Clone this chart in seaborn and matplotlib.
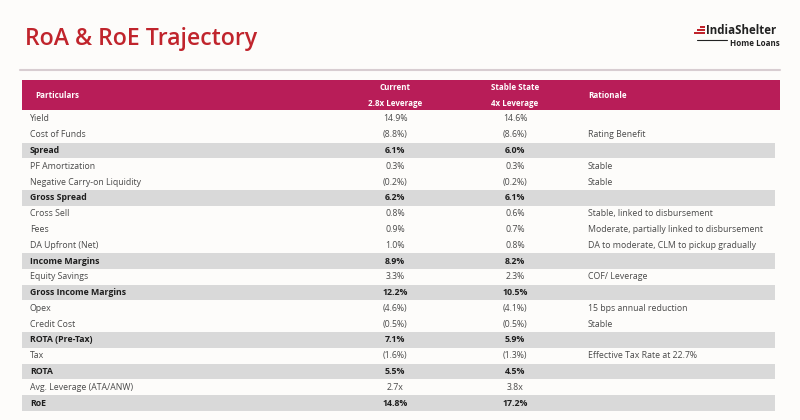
import numpy as np
import matplotlib
matplotlib.use("Agg")
import matplotlib.pyplot as plt
import seaborn as sns

particulars = ["Yield", "Cost of Funds", "Spread", "PF Amortization",
               "Negative Carry-on Liquidity", "Gross Spread", "Cross Sell", "Fees",
               "DA Upfront (Net)", "Income Margins", "Equity Savings",
               "Gross Income Margins", "Opex", "Credit Cost", "ROTA (Pre-Tax)",
               "Tax", "ROTA", "Avg. Leverage (ATA/ANW)", "RoE"]
current = ["14.9%", "(8.8%)", "6.1%", "0.3%", "(0.2%)", "6.2%", "0.8%", "0.9%",
           "1.0%", "8.9%", "3.3%", "12.2%", "(4.6%)", "(0.5%)", "7.1%", "(1.6%)",
           "5.5%", "2.7x", "14.8%"]
stable = ["14.6%", "(8.6%)", "6.0%", "0.3%", "(0.2%)", "6.1%", "0.6%", "0.7%",
          "0.8%", "8.2%", "2.3%", "10.5%", "(4.1%)", "(0.5%)", "5.9%", "(1.3%)",
          "4.5%", "3.8x", "17.2%"]
rationale = ["", "Rating Benefit", "", "Stable", "Stable", "",
             "Stable, linked to disbursement",
             "Moderate, partially linked to disbursement",
             "DA to moderate, CLM to pickup gradually", "", "COF/ Leverage", "",
             "15 bps annual reduction", "Stable", "", "Effective Tax Rate at 22.7%",
             "", "", ""]
subtotals = ["Spread", "Gross Spread", "Income Margins", "Gross Income Margins",
             "ROTA (Pre-Tax)", "ROTA", "RoE"]
headers = ["Particulars", "Current\n2.8x Leverage", "Stable State\n4x Leverage", "Rationale"]

sns.set_theme(style="white")
plt.rcParams['font.family'] = ['Open Sans', 'DejaVu Sans']

RED = "#c0242c"
MAGENTA = "#b81d58"
GREY = "#d9d9d9"
TXT = "#4a4a4a"
FS = 6.3

fig = plt.figure(figsize=(8, 4.2), dpi=100)
fig.patch.set_facecolor("#fdfcfa")

# page layer in pixel coordinates
bg = fig.add_axes([0, 0, 1, 1])
bg.set_xlim(0, 800)
bg.set_ylim(420, 0)
bg.axis("off")
bg.text(25, 39, "RoA & RoE Trajectory", color=RED, fontsize=16.7, fontweight="semibold",
        va="center", ha="left")
bg.plot([20, 780], [70, 70], color="#d8cdd1", lw=1.5)

# logo
for k, w in enumerate([5, 8, 11]):
    bg.add_patch(plt.Rectangle((705 - w, 25.5 + k * 3.3), w, 2.3, color=RED, lw=0))
bg.text(706, 30, "IndiaShelter", fontsize=8.3, fontweight="bold", color="#222222",
        va="center", ha="left")
bg.text(780, 44, "Home Loans", fontsize=5.8, fontweight="bold", color="#222222",
        va="center", ha="right")
bg.plot([697, 727], [40, 40], color="#222222", lw=0.8)

# header band
bg.add_patch(plt.Rectangle((22, 80), 758, 30, color=MAGENTA, lw=0))
hx = [35, 395, 515, 588]
ha = ["left", "center", "center", "left"]
for h, x, a in zip(headers, hx, ha):
    bg.text(x, 95, h, color="white", fontsize=5.8, fontweight="bold", ha=a,
            va="center", linespacing=2.0)

# table body
ax = fig.add_axes([22 / 800, 1 - 411 / 420, 758 / 800, 300 / 420])
ax.set_facecolor("none")
n = len(particulars)
ax.set_xlim(22, 780)
ax.set_ylim(n - 0.5, -0.5)
ax.axis("off")

bold = [p in subtotals for p in particulars]
rows = np.arange(n)
ax.barh(rows[bold], [753] * sum(bold), left=22, height=0.97, color=GREY, lw=0)

for i in range(n):
    wt = "bold" if bold[i] else "normal"
    col = "#1e1e1e" if bold[i] else TXT
    ax.text(30, i, particulars[i], fontsize=FS, fontweight=wt, color=col, va="center")
    ax.text(395, i, current[i], fontsize=FS, fontweight=wt, color=col, va="center", ha="center")
    ax.text(515, i, stable[i], fontsize=FS, fontweight=wt, color=col, va="center", ha="center")
    ax.text(588, i, rationale[i], fontsize=FS, color=TXT, va="center")

fig.savefig("out.png", dpi=100, facecolor=fig.get_facecolor())
